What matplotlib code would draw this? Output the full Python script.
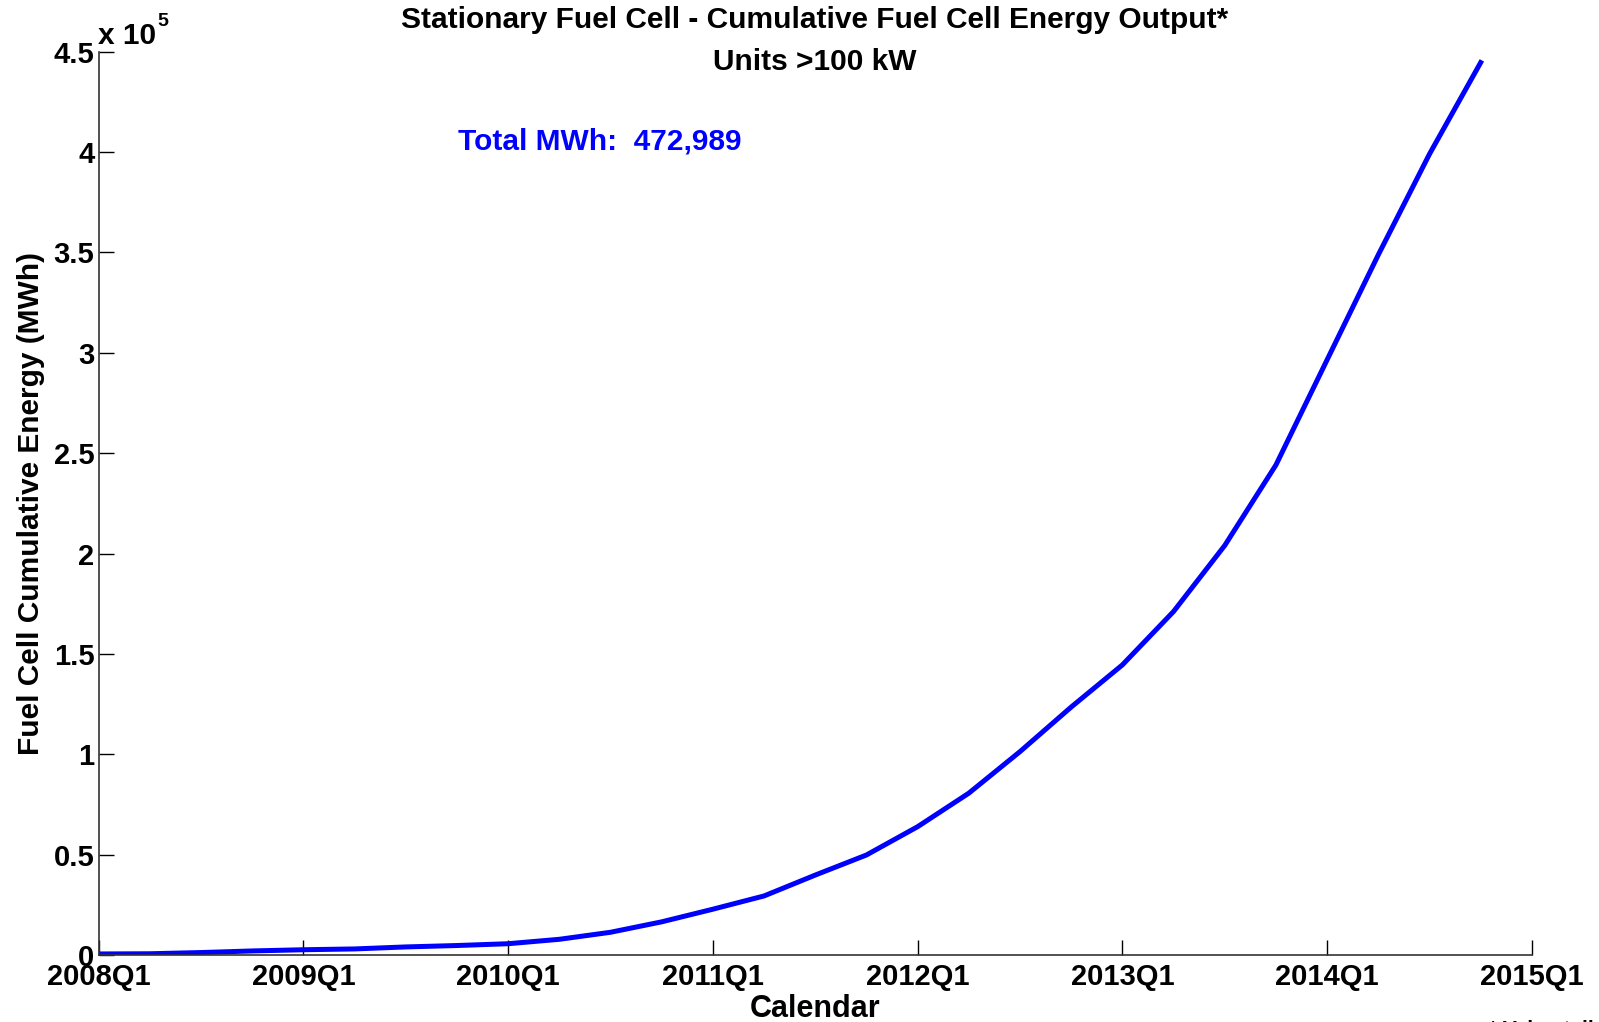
import matplotlib
matplotlib.use("Agg")
import matplotlib.pyplot as plt
import numpy as np

plt.rcParams['font.family'] = ['Liberation Sans', 'DejaVu Sans']
plt.rcParams['font.weight'] = 'bold'

# Quarterly cumulative energy output (MWh), 2008Q1 .. 2014Q4
quarters = [f"{y}Q{q}" for y in range(2008, 2015) for q in range(1, 5)]
cumulative_mwh = [500, 600, 1200, 2000, 2600, 3000, 4000, 4700,
                  5600, 7800, 11300, 16500, 22800, 29400, 39800, 49800,
                  63900, 80600, 101300, 123500, 144500, 171100, 204000, 244100,
                  296500, 348800, 399000, 444600]
tick_labels = ["2008Q1", "2009Q1", "2010Q1", "2011Q1", "2012Q1", "2013Q1", "2014Q1", "2015Q1"]
ytick_labels = ["0", "0.5", "1", "1.5", "2", "2.5", "3", "3.5", "4", "4.5"]
total_mwh = "472,989"

FS = 21.5

fig = plt.figure(figsize=(15.99, 10.22), dpi=100)
ax = fig.add_axes([0.0617, 0.0656, 0.8963, 0.8838])

x = np.arange(len(cumulative_mwh))
ax.plot(x, cumulative_mwh, color='#0000FF', lw=3.6, solid_joinstyle='miter')

ax.set_xlim(0, 28)
ax.set_ylim(0, 4.5e5)
ax.set_xticks(np.arange(0, 29, 4))
ax.set_xticklabels(tick_labels)
ax.set_yticks(np.arange(0, 4.51e5, 0.5e5))
ax.set_yticklabels(ytick_labels)

for side in ('top', 'right'):
    ax.spines[side].set_visible(False)
for side in ('left', 'bottom'):
    ax.spines[side].set_linewidth(1.2)
    ax.spines[side].set_color('#333333')

ax.tick_params(direction='in', length=11, width=1.0, labelsize=21, colors='black')
ax.tick_params(axis='x', pad=6)
ax.tick_params(axis='y', pad=3)
for lab in ax.get_xticklabels() + ax.get_yticklabels():
    lab.set_fontweight('bold')

ax.set_ylabel("Fuel Cell Cumulative Energy (MWh)", fontsize=FS, fontweight='bold', labelpad=6)
ax.set_xlabel("Calendar", fontsize=FS + 0.5, fontweight='bold', labelpad=2)

fig.text(0.5097, 0.980, "Stationary Fuel Cell - Cumulative Fuel Cell Energy Output*",
         ha='center', va='center', fontsize=FS, fontweight='bold')
fig.text(0.5097, 0.939, "Units >100 kW", ha='center', va='center',
         fontsize=FS, fontweight='bold')

# Exponent marker for the y axis
fig.text(0.0615, 0.957, "x 10", ha='left', va='baseline', fontsize=FS, fontweight='bold')
fig.text(0.0985, 0.975, "5", ha='left', va='baseline', fontsize=14, fontweight='bold')

fig.text(0.2865, 0.862, f"Total MWh:  {total_mwh}", ha='left', va='center',
         fontsize=FS, fontweight='bold', color='#0000FF')

# Footnote, running off the lower-right edge
fig.text(0.931, -0.007, "* Value tails", ha='left', va='center', fontsize=15)

fig.savefig("out.png", dpi=100)
